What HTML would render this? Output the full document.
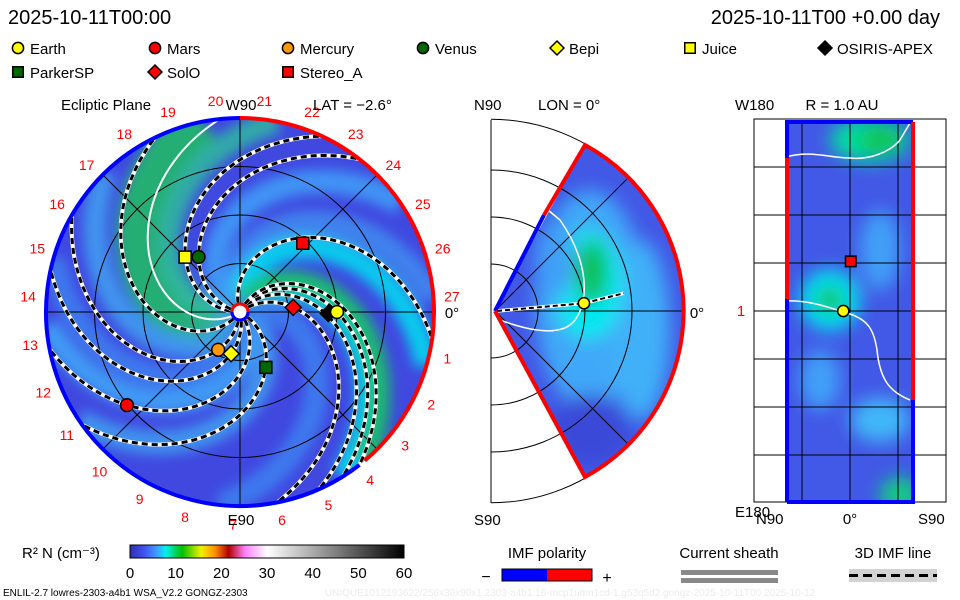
<!DOCTYPE html>
<html><head><meta charset="utf-8">
<style>
html,body{margin:0;padding:0;background:#fff;}
#root{position:relative;width:960px;height:600px;overflow:hidden;font-family:"Liberation Sans",sans-serif;}
svg text{font-family:"Liberation Sans",sans-serif;}
</style></head>
<body>
<div id="root">
<svg id="svg" width="960" height="600" viewBox="0 0 960 600">
<defs>
 <filter id="blur" x="-20%" y="-20%" width="140%" height="140%"><feGaussianBlur stdDeviation="6"/></filter>
 <filter id="blur2" x="-50%" y="-50%" width="200%" height="200%"><feGaussianBlur stdDeviation="9"/></filter>
 <clipPath id="eclClip"><circle cx="240" cy="312" r="194"/></clipPath>
 <clipPath id="wedgeClip"><path d="M495,311 L585,145 A189,189 0 0 1 585,477 Z"/></clipPath>
 <clipPath id="rectClip"><rect x="785" y="122" width="130" height="380"/></clipPath>
 <linearGradient id="cbar" x1="0" x2="1" y1="0" y2="0">
  <stop offset="0" stop-color="#3030b0"/><stop offset="0.05" stop-color="#4050f0"/>
  <stop offset="0.1" stop-color="#40a0ff"/><stop offset="0.13" stop-color="#00f0f0"/>
  <stop offset="0.19" stop-color="#00c000"/><stop offset="0.26" stop-color="#f0f000"/>
  <stop offset="0.31" stop-color="#ff9000"/><stop offset="0.36" stop-color="#b00000"/>
  <stop offset="0.42" stop-color="#ff80ff"/><stop offset="0.5" stop-color="#ffffff"/>
  <stop offset="0.75" stop-color="#808080"/><stop offset="1" stop-color="#000000"/>
 </linearGradient>
</defs>
<text x="8" y="24" font-size="20">2025-10-11T00:00</text>
<text x="940" y="24" font-size="20" text-anchor="end">2025-10-11T00 +0.00 day</text>
<g id="legend"></g>
<g id="ecl"></g>
<g id="mer"></g>
<g id="sph"></g>
<g id="bottom">
 <text x="22" y="558" font-size="15">R² N (cm⁻³)</text>
 <rect x="130" y="545" width="274" height="13" fill="url(#cbar)" stroke="#000" stroke-width="1"/>
 <g id="cbticks"></g>
 <text x="547" y="558" font-size="15" text-anchor="middle">IMF polarity</text>
 <text x="486" y="582" font-size="16" text-anchor="middle">−</text>
 <rect x="502" y="569" width="45" height="12" fill="#0000ff"/>
 <rect x="547" y="569" width="45" height="12" fill="#ff0000"/>
 <rect x="502" y="569" width="90" height="12" fill="none" stroke="#000"/>
 <text x="607" y="583" font-size="16" text-anchor="middle">+</text>
 <text x="729" y="558" font-size="15" text-anchor="middle">Current sheath</text>
 <rect x="681" y="570" width="97" height="5" fill="#888"/>
 <rect x="681" y="578" width="97" height="5" fill="#888"/>
 <text x="893" y="558" font-size="15" text-anchor="middle">3D IMF line</text>
 <rect x="849" y="569" width="88" height="13" fill="#d3d3d3"/>
 <line x1="849" y1="575.5" x2="937" y2="575.5" stroke="#000" stroke-width="3" stroke-dasharray="9,5"/>
 <text x="3" y="596" font-size="10">ENLIL-2.7 lowres-2303-a4b1 WSA_V2.2 GONGZ-2303</text>
 <text x="325" y="596" font-size="10" fill="#ececec">UNIQUE1012193622/256x30x90x1.2303-a4b1.16-mcp1umn1cd-1.g53q5d2.gongz-2025-10-11T00   2025-10-12</text>
</g>
</svg>
</div>
<script>
// ---------- data ----------
const bodyNames = ["Earth","Mars","Mercury","Venus","Bepi","Juice","OSIRIS-APEX","ParkerSP","SolO","Stereo_A"];
const bodyR     = [1.00, 1.51, 0.45, 0.71, 0.44, 0.80, 0.91, 0.63, 0.55, 0.96];
const bodyLon   = [0, -140.5, -120, 127, -102, 135, -1, -65, 5, 47.6];
const bodyShape = ["circle","circle","circle","circle","diamond","square","diamond","square","diamond","square"];
const bodyColor = ["#ffff00","#ff0000","#ff9900","#006600","#ffff00","#ffff00","#000000","#006600","#ff0000","#ff0000"];
const legendNames = ["Earth","Mars","Mercury","Venus","Bepi","Juice","OSIRIS-APEX","ParkerSP","SolO","Stereo_A"];
const fieldLinePhi0 = [58, 50, 64, 108, 37, 181, 168, 307, 266, 283.5, 331.5, 232];
const densityBandPhi0 = [217, 195, 250, 120, 100, 58, 66, 300, 330, 150, 280, 20];
const densityBandColor = ["#22c060","#30b8a0","#3fa0f0","#3f8cf0","#00e0f0","#00e8f0","#18c060","#40a8f8","#3fa0f0","#40a0f8","#3c80f0","#3c80f0"];
const carrLabels = [27,26,25,24,23,22,21,20,19,18,17,16,15,14,13,12,11,10,9,8,7,6,5,4,3,2,1];
const cbTicks = [0,10,20,30,40,50,60];
const merEarthR = 0.95, merEarthLat = 5;
const sphEarthLat = -1, sphEarthLon = 0;
const sphStereoLat = 1, sphStereoLon = 47;

const NS="http://www.w3.org/2000/svg";
function mk(tag, attrs, parent){const e=document.createElementNS(NS,tag);for(const k in attrs)e.setAttribute(k,attrs[k]);parent.appendChild(e);return e;}

// ---------- ecliptic panel ----------
const CX=240, CY=312, S=97, K=58;
const ecl=document.getElementById('ecl');
function px(r,deg){const a=deg*Math.PI/180;return [CX+r*S*Math.cos(a), CY-r*S*Math.sin(a)];}
function spiral(phi0,r0){let d="";for(let r=(r0||0.06);r<=2.01;r+=0.02){const p=px(r,phi0-K*r);d+=(d?"L":"M")+p[0].toFixed(1)+","+p[1].toFixed(1);}return d;}
const bg=mk('g',{'clip-path':'url(#eclClip)'},ecl);


mk('circle',{cx:CX,cy:CY,r:194,fill:'#4048e0'},bg);
const bands=mk('g',{filter:'url(#blur)'},bg);
densityBandPhi0.forEach((p,i)=>{
  const b=mk('path',{d:spiral(p),fill:'none',stroke:densityBandColor[i],'stroke-width':i===0?50:24,'stroke-opacity':0.85},bands);
  
  
});
// grid
const grid=mk('g',{stroke:'#000','stroke-width':1,fill:'none'},ecl);


[0.5,1,1.5].forEach(r=>mk('circle',{cx:CX,cy:CY,r:r*S},grid));
[0,45,90,135].forEach(a=>{const p=px(2,a),q=px(2,a+180);mk('line',{x1:p[0],y1:p[1],x2:q[0],y2:q[1]},grid);});
// field lines
const fl=mk('g',{'clip-path':'url(#eclClip)',fill:'none'},ecl);
fieldLinePhi0.forEach(p=>{
  const d=spiral(p,0.1);
  const w=mk('path',{d:d,stroke:'#fff','stroke-width':4},fl);
  
  
  const b=mk('path',{d:d,stroke:'#000','stroke-width':3,'stroke-dasharray':'6,4'},fl);
  
  
});
const cs=mk('path',{d:spiral(212,0.1),fill:'none',stroke:'#fff','stroke-width':2,'clip-path':'url(#eclClip)'},ecl);


// boundary
const bd=mk('g',{fill:'none','stroke-width':4},ecl);
function arc(a1,a2,r){const p=px(r,a1),q=px(r,a2);const large=Math.abs(a2-a1)>180?1:0;return `M${p[0]},${p[1]} A${r*S},${r*S} 0 ${large} ${a2<a1?1:0} ${q[0]},${q[1]}`;}
const rb=mk('path',{d:arc(90,-50,2),stroke:'#ff0000'},bd);


const bb=mk('path',{d:arc(-52,-270,2),stroke:'#0000ff'},bd);


const sun=mk('circle',{cx:CX,cy:CY,r:8,fill:'#fff',stroke:'#ff0000','stroke-width':3},ecl);


mk('path',{d:`M${CX-8},${CY} A8,8 0 0 0 ${CX+8},${CY}`,fill:'none',stroke:'#0000ff','stroke-width':3},ecl);
carrLabels.forEach((n,i)=>{
  const a=4.2+13.2*i;const p=px(2.19,a);
  const t=mk('text',{x:p[0],y:p[1]+5,'font-size':14,fill:'#ff0000','text-anchor':'middle'},ecl);
  t.textContent=n;
  
  
});
function txt(parent,x,y,s,size,name,anchor,fill){const t=mk('text',{x:x,y:y,'font-size':size,'text-anchor':anchor||'start',fill:fill||'#000'},parent);t.textContent=s;return t;}
txt(ecl,61,110,'Ecliptic Plane',15,'ecliptic-title');
txt(ecl,241,110,'W90',15,'w90-label','middle');
txt(ecl,313,110,'LAT = −2.6°',15,'lat-label');
txt(ecl,452,318,'0°',15,'zero-lon-label','middle');
txt(ecl,241,525,'E90',15,'e90-label','middle');
function marker(parent,shape,x,y,color,sz,name){
  let e;
  if(shape==='circle') e=mk('circle',{cx:x,cy:y,r:sz*0.8,fill:color,stroke:'#000','stroke-width':1.5},parent);
  else if(shape==='square') e=mk('rect',{x:x-sz*0.75,y:y-sz*0.75,width:sz*1.5,height:sz*1.5,fill:color,stroke:'#000','stroke-width':1.5},parent);
  else e=mk('path',{d:`M${x},${y-sz} L${x+sz},${y} L${x},${y+sz} L${x-sz},${y} Z`,fill:color,stroke:'#000','stroke-width':1.5},parent);
  
  
  return e;
}
const order=[6,9,7,3,5,2,4,1,8,0];
order.forEach(i=>{const p=px(bodyR[i],bodyLon[i]);marker(ecl,bodyShape[i],p[0],p[1],bodyColor[i],8,'marker-'+bodyNames[i].toLowerCase());});

// ---------- legend ----------
const lg=document.getElementById('legend');
const legX=[18,155,288,423,557,690,825,18,155,288];
const legY=[48,48,48,48,48,48,48,72,72,72];
legendNames.forEach((n,i)=>{
  marker(lg,bodyShape[i],legX[i],legY[i],bodyColor[i],7,'legend-marker-'+n.toLowerCase());
  txt(lg,legX[i]+12,legY[i]+6,n,15,'legend-entry-'+n.toLowerCase());
});

// ---------- meridional panel ----------
const mer=document.getElementById('mer');
const MX=495,MY=311,MS=94;
function mp(r,lat){const a=lat*Math.PI/180;return [MX+r*MS*Math.cos(a),MY-r*MS*Math.sin(a)];}
const mbg=mk('g',{'clip-path':'url(#wedgeClip)'},mer);


mk('rect',{x:480,y:130,width:220,height:360,fill:'#4258e6'},mbg);
const mb=mk('g',{filter:'url(#blur2)'},mbg);
mk('ellipse',{cx:590,cy:300,rx:55,ry:110,fill:'#40a8f8'},mb);
mk('ellipse',{cx:640,cy:330,rx:30,ry:90,fill:'#40b0f8'},mb);
mk('ellipse',{cx:588,cy:285,rx:35,ry:55,fill:'#00e8f0'},mb);
mk('ellipse',{cx:592,cy:272,rx:16,ry:32,fill:'#10c050'},mb);
mk('ellipse',{cx:555,cy:260,rx:20,ry:40,fill:'#40a0f8'},mb);
mk('ellipse',{cx:590,cy:430,rx:40,ry:35,fill:'#3a48d8'},mb);
const mg=mk('g',{stroke:'#000','stroke-width':1,fill:'none'},mer);


mk('line',{x1:491,y1:120,x2:491,y2:503},mg);
[0.5,1,1.5,2.04].forEach(r=>mk('path',{d:`M491,${311-r*MS} A${r*MS},${r*MS} 0 0 1 491,${311+r*MS}`},mg));
mk('line',{x1:495,y1:311,x2:682,y2:311},mg);
const m1=mp(2,45),m2=mp(2,-45);
mk('line',{x1:495,y1:311,x2:m1[0],y2:m1[1]},mg);
mk('line',{x1:495,y1:311,x2:m2[0],y2:m2[1]},mg);
mk('path',{d:'M495,318 C520,328 560,340 575,320 C590,300 588,260 560,220 L548,210',fill:'none',stroke:'#fff','stroke-width':1.5},mer);
const me=mp(merEarthR,merEarthLat);
mk('path',{d:`M497,311 L${me[0]},${me[1]} L${me[0]+40},${me[1]-10}`,fill:'none',stroke:'#fff','stroke-width':3.5},mer);
mk('path',{d:`M497,311 L${me[0]},${me[1]} L${me[0]+40},${me[1]-10}`,fill:'none',stroke:'#000','stroke-width':2,'stroke-dasharray':'5,3'},mer);
const wb=mk('g',{fill:'none','stroke-width':4},mer);
mk('path',{d:'M495,311 L544,215',stroke:'#0000ff'},wb);
mk('path',{d:'M544,215 L585,145 A189,189 0 0 1 585,477 L495,311',stroke:'#ff0000'},wb);
marker(mer,'circle',me[0],me[1],'#ffff00',7,'meridional-earth');
txt(mer,474,110,'N90',15,'n90-label');
txt(mer,538,110,'LON = 0°',15,'lon-label');
txt(mer,474,525,'S90',15,'s90-label');
txt(mer,697,318,'0°',15,'meridional-zero-label','middle');

// ---------- sphere panel ----------
const sph=document.getElementById('sph');
const SX0=785,SY0=122,SW=130,SH=380;
function sp(lat,lon){return [850+lat*(SW/180), 311-lon*(SH/360)];}
const sbg=mk('g',{'clip-path':'url(#rectClip)'},sph);


mk('rect',{x:SX0,y:SY0,width:SW,height:SH,fill:'#4258e6'},sbg);
const sb=mk('g',{filter:'url(#blur2)'},sbg);
mk('ellipse',{cx:870,cy:140,rx:40,ry:22,fill:'#00e0a0'},sb);
mk('ellipse',{cx:880,cy:140,rx:22,ry:12,fill:'#10c040'},sb);
mk('ellipse',{cx:830,cy:300,rx:30,ry:30,fill:'#00e8f0'},sb);
mk('ellipse',{cx:830,cy:300,rx:14,ry:14,fill:'#10c050'},sb);
mk('ellipse',{cx:880,cy:420,rx:30,ry:22,fill:'#40b8f8'},sb);
mk('ellipse',{cx:900,cy:495,rx:20,ry:18,fill:'#10d080'},sb);
mk('ellipse',{cx:880,cy:250,rx:20,ry:40,fill:'#40a0f8'},sb);
mk('ellipse',{cx:820,cy:380,rx:20,ry:30,fill:'#40a0f8'},sb);
const sg=mk('g',{stroke:'#000','stroke-width':1,fill:'none'},sph);


mk('rect',{x:754,y:119,width:192,height:383},sg);
[167,215,263,311,359,407,455].forEach(y=>mk('line',{x1:754,y1:y,x2:946,y2:y},sg));
[802,850,898].forEach(x=>mk('line',{x1:x,y1:122,x2:x,y2:502},sg));
mk('path',{d:'M786,157 C810,150 830,158 850,158 C870,160 890,152 900,140 L910,123',fill:'none',stroke:'#fff','stroke-width':1.5},sph);
mk('path',{d:'M786,301 C810,300 830,308 850,314 C868,320 874,330 877,350 C880,380 890,392 910,400',fill:'none',stroke:'#fff','stroke-width':1.5},sph);
const se=mk('g',{fill:'none','stroke-width':4},sph);
mk('path',{d:'M787,502 L787,299 M787,158 L787,122 L913,122 M913,400 L913,502 L787,502',stroke:'#0000ff'},se);
mk('path',{d:'M787,158 L787,299 M913,122 L913,400',stroke:'#ff0000'},se);
const ss=sp(sphStereoLat,sphStereoLon);
marker(sph,'square',ss[0],ss[1],'#ff0000',7,'sphere-stereo-a');
const sE=sp(sphEarthLat,sphEarthLon);
marker(sph,'circle',sE[0]-6,sE[1],'#ffff00',7,'sphere-earth');
txt(sph,735,110,'W180',15,'w180-label');
txt(sph,842,110,'R = 1.0 AU',15,'radius-label','middle');
txt(sph,741,316,'1',15,'earth-row-label','middle','#ff0000');
txt(sph,735,517,'E180',15,'e180-label');
txt(sph,756,524,'N90',15,'sphere-n90-label');
txt(sph,850,524,'0°',15,'sphere-zero-label','middle');
txt(sph,918,524,'S90',15,'sphere-s90-label');

// ---------- colorbar ticks ----------
const cbt=document.getElementById('cbticks');
cbTicks.forEach(v=>{
  const x=130+v/60*274;
  const t=mk('text',{x:x,y:578,'font-size':15,'text-anchor':'middle'},cbt);
  t.textContent=v;
  
  
});
</script>
</body></html>
